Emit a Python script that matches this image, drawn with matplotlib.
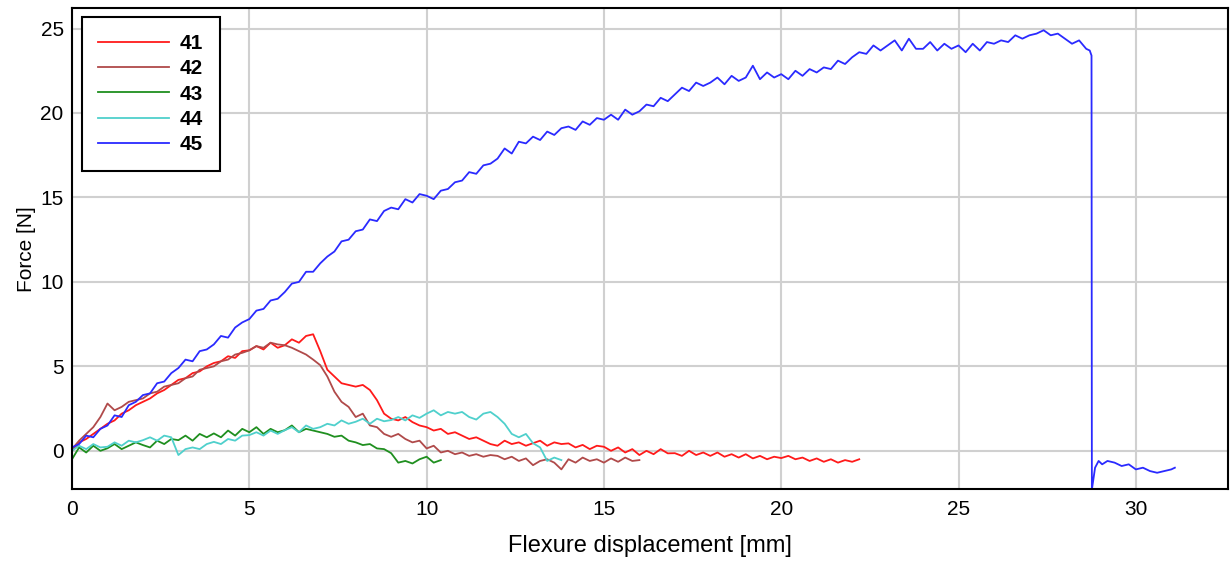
import numpy as np
import matplotlib
matplotlib.use("Agg")
import matplotlib.pyplot as plt

plt.rcParams['font.family'] = ['Liberation Sans', 'DejaVu Sans']

step = 0.2

# specimen 41 (red), from 0 to 22.2 mm
f41 = [0.0, 0.5, 0.7, 1.0, 1.3,
       1.6, 1.8, 2.2, 2.4, 2.7,
       2.9, 3.1, 3.4, 3.6, 3.9,
       4.2, 4.3, 4.6, 4.7, 5.0,
       5.2, 5.3, 5.6, 5.5, 5.9,
       5.95, 6.2, 6.0, 6.4, 6.1,
       6.25, 6.6, 6.4, 6.8, 6.9,
       5.9, 4.8, 4.4, 4.0, 3.9,
       3.8, 3.9, 3.6, 3.0, 2.2,
       1.9, 1.8, 2.0, 1.7, 1.5,
       1.4, 1.2, 1.3, 1.0, 1.1,
       0.9, 0.7, 0.8, 0.6, 0.4,
       0.3, 0.6, 0.4, 0.5, 0.3,
       0.45, 0.6, 0.3, 0.5, 0.4,
       0.44, 0.2, 0.35, 0.1, 0.3,
       0.24, 0.0, 0.2, -0.1, 0.1,
       -0.25, 0.0, -0.2, 0.1, -0.15,
       -0.14, -0.3, 0.0, -0.25, -0.1,
       -0.3, -0.1, -0.35, -0.2, -0.4,
       -0.2, -0.45, -0.3, -0.5, -0.35,
       -0.43, -0.3, -0.5, -0.4, -0.6,
       -0.45, -0.65, -0.5, -0.7, -0.55,
       -0.65, -0.5]

# specimen 42 (brown), from 0 to 16 mm
f42 = [0.1, 0.6, 1.0, 1.4, 2.0,
       2.8, 2.4, 2.6, 2.9, 3.0,
       3.1, 3.4, 3.5, 3.8, 3.9,
       4.0, 4.3, 4.4, 4.8, 4.9,
       5.0, 5.3, 5.4, 5.7, 5.8,
       5.95, 6.2, 6.1, 6.4, 6.3,
       6.25, 6.1, 5.9, 5.7, 5.4,
       5.07, 4.4, 3.5, 2.9, 2.6,
       2.0, 2.2, 1.5, 1.4, 1.0,
       0.83, 1.0, 0.7, 0.5, 0.6,
       0.14, 0.3, -0.1, 0.0, -0.2,
       -0.1, -0.3, -0.2, -0.35, -0.25,
       -0.3, -0.5, -0.35, -0.6, -0.45,
       -0.85, -0.6, -0.5, -0.7, -1.1,
       -0.5, -0.7, -0.4, -0.6, -0.5,
       -0.7, -0.45, -0.65, -0.4, -0.6,
       -0.55]

# specimen 43 (green), from 0 to 10.4 mm
f43 = [-0.5, 0.2, -0.1, 0.3, 0.0,
       0.15, 0.4, 0.1, 0.3, 0.5,
       0.34, 0.2, 0.6, 0.4, 0.7,
       0.63, 0.9, 0.6, 1.0, 0.8,
       1.03, 0.8, 1.2, 0.9, 1.3,
       1.1, 1.4, 1.0, 1.3, 1.1,
       1.22, 1.5, 1.1, 1.3, 1.2,
       1.1, 1.0, 0.83, 0.9, 0.6,
       0.5, 0.34, 0.4, 0.14, 0.1,
       -0.14, -0.7, -0.6, -0.75, -0.5,
       -0.35, -0.7, -0.55]

# specimen 44 (turquoise), from 0 to 13.8 mm
f44 = [0.0, 0.3, 0.1, 0.4, 0.2,
       0.24, 0.5, 0.3, 0.6, 0.5,
       0.63, 0.8, 0.6, 0.9, 0.8,
       -0.25, 0.1, 0.2, 0.1, 0.4,
       0.53, 0.4, 0.7, 0.6, 0.9,
       0.93, 1.1, 0.9, 1.2, 1.0,
       1.22, 1.4, 1.1, 1.5, 1.3,
       1.4, 1.6, 1.5, 1.8, 1.6,
       1.72, 1.9, 1.6, 1.9, 1.75,
       1.82, 2.0, 1.8, 2.1, 1.95,
       2.2, 2.4, 2.1, 2.3, 2.2,
       2.3, 2.0, 1.85, 2.2, 2.3,
       2.0, 1.6, 1.0, 0.8, 1.0,
       0.45, 0.2, -0.6, -0.4, -0.55]

# specimen 45 (blue), from 0 to 28.6 mm, then failure and tail
f45 = [0.2, 0.4, 0.9, 0.8, 1.3,
       1.5, 2.1, 2.0, 2.7, 2.9,
       3.3, 3.4, 4.0, 4.1, 4.6,
       4.9, 5.4, 5.3, 5.9, 6.0,
       6.3, 6.8, 6.7, 7.3, 7.6,
       7.8, 8.3, 8.4, 8.9, 9.0,
       9.4, 9.9, 10.0, 10.6, 10.6,
       11.1, 11.5, 11.8, 12.4, 12.5,
       13.0, 13.1, 13.7, 13.6, 14.2,
       14.4, 14.3, 14.9, 14.7, 15.2,
       15.1, 14.9, 15.4, 15.5, 15.9,
       16.0, 16.5, 16.4, 16.9, 17.0,
       17.3, 17.9, 17.6, 18.3, 18.2,
       18.6, 18.4, 18.9, 18.7, 19.1,
       19.2, 19.0, 19.5, 19.3, 19.7,
       19.6, 19.9, 19.6, 20.2, 19.9,
       20.1, 20.5, 20.4, 20.9, 20.7,
       21.1, 21.5, 21.3, 21.8, 21.6,
       21.8, 22.1, 21.7, 22.2, 21.9,
       22.1, 22.8, 22.0, 22.4, 22.1,
       22.3, 22.0, 22.5, 22.2, 22.6,
       22.4, 22.7, 22.6, 23.1, 22.9,
       23.3, 23.6, 23.5, 24.0, 23.7,
       24.0, 24.3, 23.7, 24.4, 23.8,
       23.8, 24.2, 23.7, 24.1, 23.8,
       24.0, 23.6, 24.1, 23.7, 24.2,
       24.1, 24.3, 24.2, 24.6, 24.4,
       24.6, 24.7, 24.9, 24.6, 24.7,
       24.4, 24.1, 24.3, 23.8]
d45_tail = [28.7, 28.75, 28.76, 28.85, 28.95, 29.05, 29.2, 29.4, 29.6, 29.8,
            30.0, 30.2, 30.4, 30.6, 30.8, 31.0, 31.1]
f45_tail = [23.7, 23.4, -2.3, -1.0, -0.6, -0.8, -0.6, -0.7, -0.9, -0.8,
            -1.1, -1.0, -1.2, -1.3, -1.2, -1.1, -1.0]

labels = ['41', '42', '43', '44', '45']
colors = ['#ff1a1a', '#b04a4a', '#1f8f1f', '#4fd0cc', '#2a2aff']


def disp(force):
    return np.arange(len(force)) * step


series = [
    (disp(f41), f41),
    (disp(f42), f42),
    (disp(f43), f43),
    (disp(f44), f44),
    (np.concatenate([disp(f45), d45_tail]), f45 + f45_tail),
]

fig = plt.figure(figsize=(12.31, 5.67), dpi=100)
ax = fig.add_axes([0.0585, 0.137, 0.9391, 0.8484])

for (x, y), lab, c in zip(series, labels, colors):
    ax.plot(x, y, color=c, lw=1.3, label=lab)

ax.set_xlim(0, 32.6)
ax.set_ylim(-2.28, 26.2)
ax.set_xticks([0, 5, 10, 15, 20, 25, 30])
ax.set_yticks([0, 5, 10, 15, 20, 25])
ax.grid(True, color='#d0d0d0', lw=1.5)
ax.set_axisbelow(True)
ax.tick_params(length=0, labelsize=15)
ax.tick_params(axis='x', pad=8)
ax.tick_params(axis='y', pad=6)
for s in ax.spines.values():
    s.set_linewidth(1.5)
    s.set_color('black')

ax.set_xlabel('Flexure displacement [mm]', fontsize=17, labelpad=11)
ax.set_ylabel('Force [N]', fontsize=15, labelpad=3)

leg = ax.legend(loc='upper left', bbox_to_anchor=(0.0084, 0.981), borderaxespad=0,
                fancybox=False, edgecolor='black', framealpha=1,
                prop={'weight': 'bold', 'size': 15}, handlelength=3.4,
                handletextpad=0.5, labelspacing=0.3, borderpad=0.8)
leg.get_frame().set_linewidth(1.5)

fig.savefig('out.png', dpi=100)
